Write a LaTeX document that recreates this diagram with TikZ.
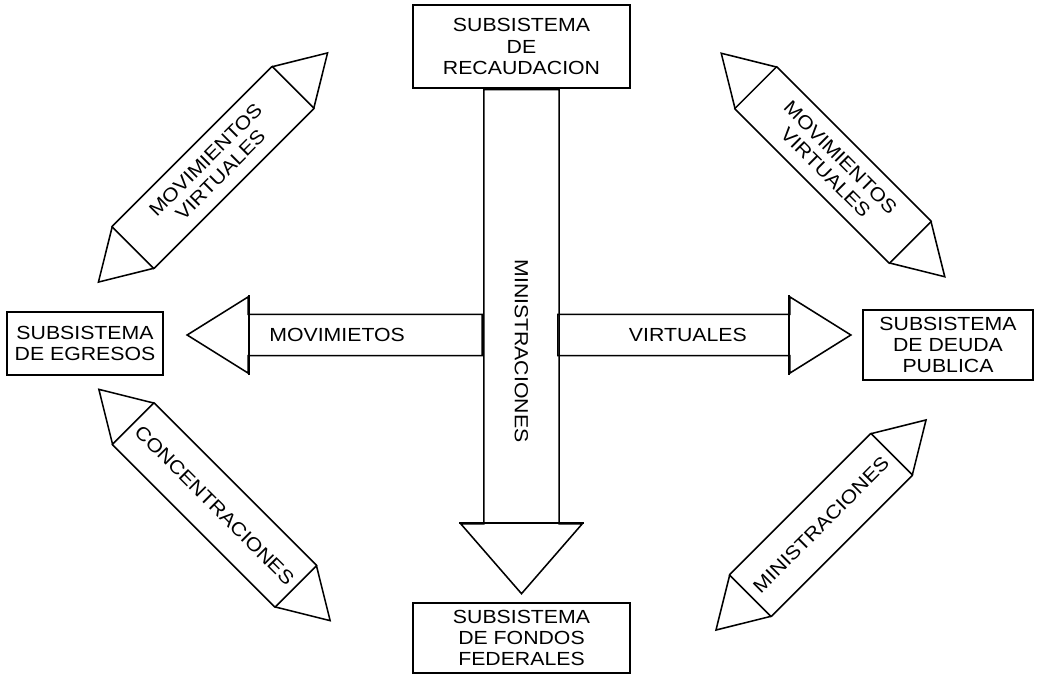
\documentclass[tikz,border=0pt]{standalone}
\usepackage{fontspec}
\setmainfont{Liberation Sans}[FakeStretch=1.12]
\usetikzlibrary{shapes,arrows,positioning}

\begin{document}
\begin{tikzpicture}[
        x=0.025cm, y=-0.025cm,
        line width=1.1pt,
        font=\fontsize{13.5}{15}\selectfont,
        box/.style={draw, rectangle, align=center, inner sep=0pt},
        flecha/.style={single arrow, draw, anchor=tail, single arrow head extend=12.5pt, single arrow tip angle=64, inner ysep=9.3pt, minimum height=7.35cm},
        doble/.style={double arrow, draw, double arrow head extend=0pt, double arrow tip angle=62, align=center}
    ]
        \useasboundingbox (0,0) rectangle (1037,674);

        % Subsistemas
        \node (rec) [box, minimum width=5.425cm, minimum height=2.075cm] at (521.5,46.5) {SUBSISTEMA\\DE\\RECAUDACION};
        \node (egr) [box, minimum width=3.9cm, minimum height=1.575cm] at (85,343.5) {SUBSISTEMA\\DE EGRESOS};
        \node (deuda) [box, minimum width=4.25cm, minimum height=1.75cm] at (948,345) {SUBSISTEMA\\DE DEUDA\\PUBLICA};
        \node (fondos) [box, minimum width=5.425cm, minimum height=1.75cm] at (521.5,638) {SUBSISTEMA\\DE FONDOS\\FEDERALES};

        % Flechas centrales
        \node (mid) [single arrow, draw, anchor=tail, rotate=-90, minimum height=12.6cm, inner ysep=21.4pt, single arrow head extend=16.4pt, single arrow tip angle=82] at (rec.south) {\hspace*{44pt}MINISTRACIONES};
        \node (mov) [flecha, shape border rotate=180, minimum height=7.375cm] at (483,335) {MOVIMIETOS\hspace*{20pt}};
        \node (vir) [flecha, minimum height=7.325cm] at (557,335) {VIRTUALES};
        \draw (mid.before tip) -- (mid.after tip);
        \draw (mov.before tip) -- (mov.after tip);
        \draw (vir.before tip) -- (vir.after tip);

        % Flechas diagonales
        \node (mvl) [doble, rotate=45, minimum height=8.1cm, inner ysep=8.3pt] at (213,167.5) {MOVIMIENTOS\\VIRTUALES};
        \node (mvr) [doble, rotate=-45, minimum height=7.9cm, inner ysep=8.3pt] at (833,165) {MOVIMIENTOS\\VIRTUALES};
        \node (con) [doble, rotate=-45, minimum height=8.175cm, inner ysep=15.7pt] at (214.5,505) {CONCENTRACIONES};
        \node (min) [doble, rotate=45, minimum height=7.425cm, inner ysep=15.7pt] at (821,525) {MINISTRACIONES};
        \foreach \n in {mvl,mvr,con,min}{
            \draw (\n.before tip 1) -- (\n.after tip 1);
            \draw (\n.before tip 2) -- (\n.after tip 2);
        }
    \end{tikzpicture}
\end{document}
